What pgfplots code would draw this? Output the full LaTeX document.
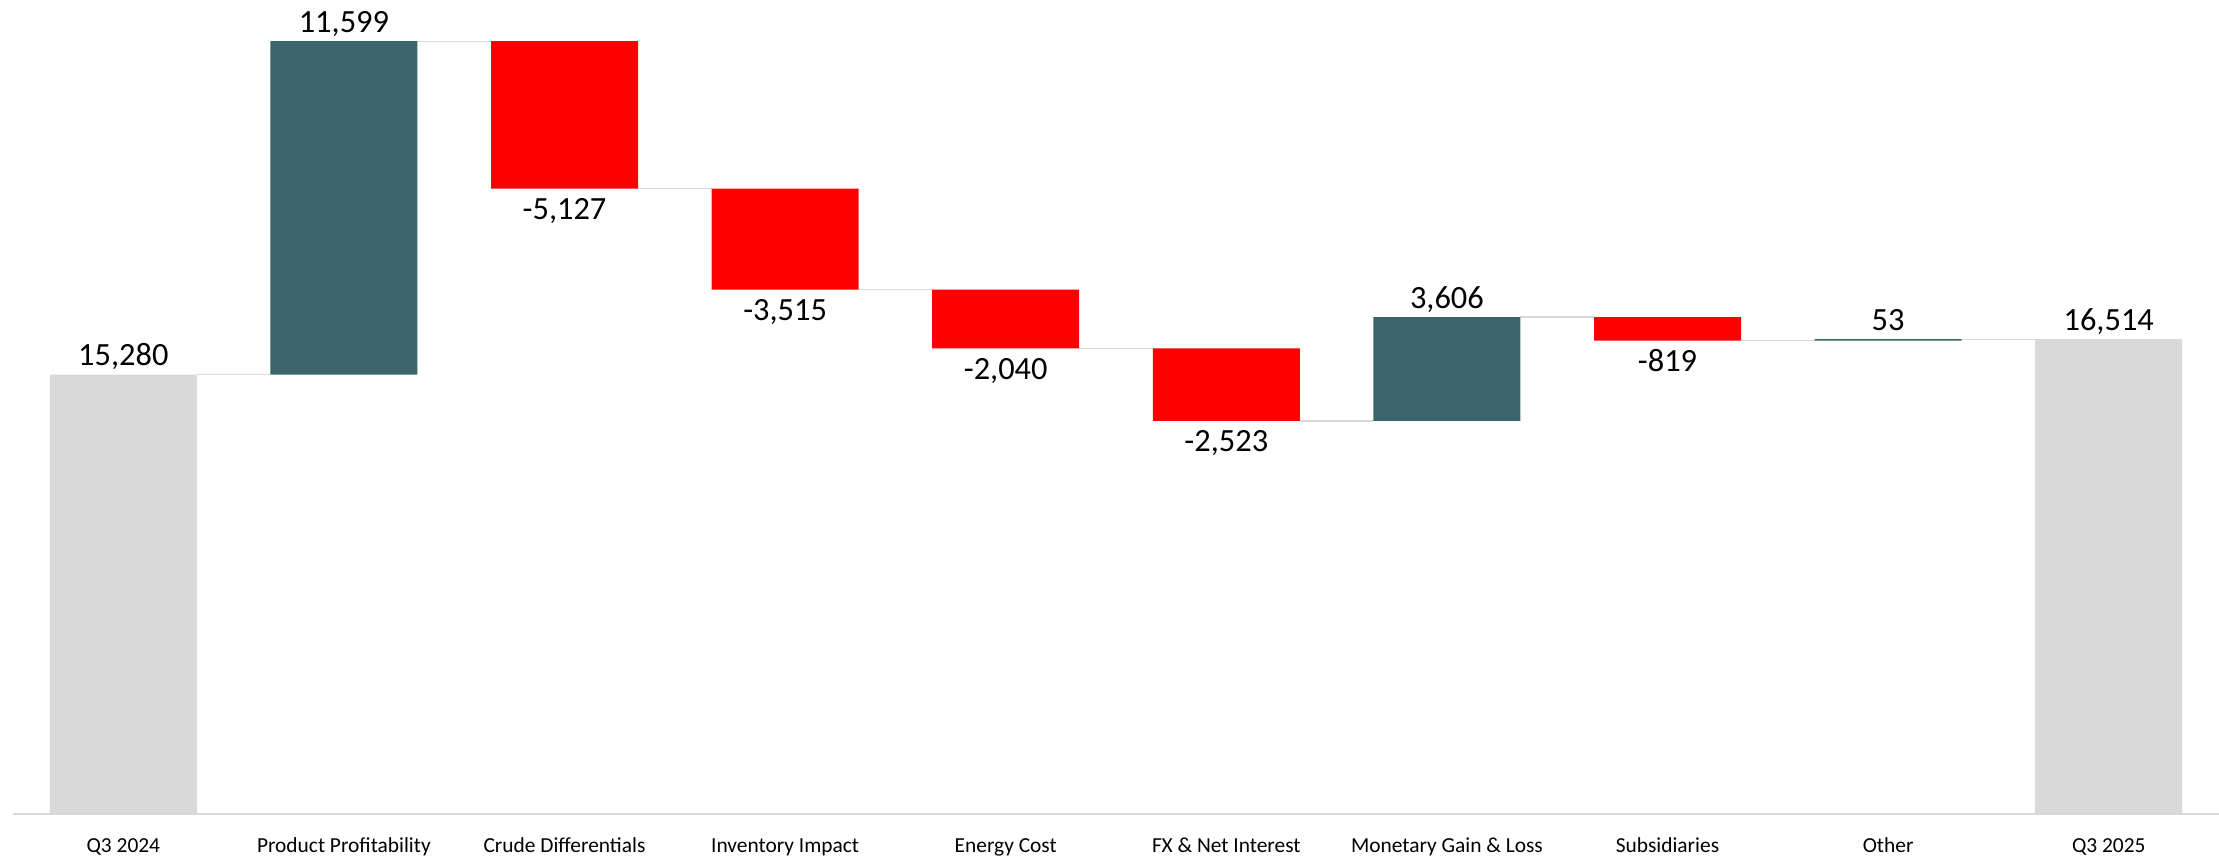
\documentclass[border=0pt]{standalone}
\usepackage{fontspec}
\setmainfont{Carlito}
\usepackage{pgfplots}
\pgfplotsset{compat=1.18}
\definecolor{totgray}{HTML}{D9D9D9}
\definecolor{posteal}{HTML}{3B656A}
\definecolor{negred}{HTML}{FF0000}
\definecolor{linegray}{HTML}{D9D9D9}
\pgfplotsset{
  common/.style={
    scale only axis, width=1103pt, height=407pt,
    xmin=-0.5, xmax=9.5, ymin=0, ymax=28313,
    clip=false,
  }
}
\begin{document}
\begin{tikzpicture}
% connectors and value labels
\begin{axis}[common, hide axis]
\addplot[linegray, line width=0.7pt, unbounded coords=jump, mark=none] table {
x y
0.333 15280
0.667 15280
0.5 nan
1.333 26879
1.667 26879
1.5 nan
2.333 21752
2.667 21752
2.5 nan
3.333 18237
3.667 18237
3.5 nan
4.333 16197
4.667 16197
4.5 nan
5.333 13674
5.667 13674
5.5 nan
6.333 17280
6.667 17280
6.5 nan
7.333 16461
7.667 16461
7.5 nan
8.333 16514
8.667 16514
};
\addplot[draw=none, mark=none, nodes near coords, point meta=explicit symbolic,
  every node near coord/.append style={anchor=base, yshift=4.5pt, font=\fontsize{16.2}{19}\selectfont, text=black}]
  table[meta=lab] {
x y lab
0 15280 15,280
1 26879 11,599
6 17280 3,606
8 16514 53
9 16514 16,514
};
\addplot[draw=none, mark=none, nodes near coords, point meta=explicit symbolic,
  every node near coord/.append style={anchor=base, yshift=-15.5pt, font=\fontsize{16.2}{19}\selectfont, text=black}]
  table[meta=lab] {
x y lab
2 21752 -5,127
3 18237 -3,515
4 16197 -2,040
5 13674 -2,523
7 16461 -819
};
\end{axis}
% bars
\begin{axis}[common, name=bars,
  ybar stacked, bar width=73.5pt,
  axis x line*=bottom, axis y line=none,
  x axis line style={draw=linegray, line width=0.85pt},
  xtick={0,1,2,3,4,5,6,7,8,9},
  xticklabels={Q3 2024, Product Profitability, Crude Differentials, Inventory Impact, Energy Cost, FX \& Net Interest, Monetary Gain \& Loss, Subsidiaries, Other, Q3 2025},
  major tick length=0pt, xtick style={draw=none}, ytick=\empty,
  xticklabel style={anchor=base, yshift=-19.5pt, font=\fontsize{10.7}{13}\selectfont, text=black},
]
\addplot[fill=white, draw=none, fill opacity=0] coordinates {(0,0) (1,15280) (2,21752) (3,18237) (4,16197) (5,13674) (6,13674) (7,16461) (8,16461) (9,0)};
\addplot[fill=totgray, draw=none] coordinates {(0,15280) (1,0) (2,0) (3,0) (4,0) (5,0) (6,0) (7,0) (8,0) (9,16514)};
\addplot[fill=posteal, draw=none] coordinates {(0,0) (1,11599) (2,0) (3,0) (4,0) (5,0) (6,3606) (7,0) (8,53) (9,0)};
\addplot[fill=negred, draw=none] coordinates {(0,0) (1,0) (2,5127) (3,3515) (4,2040) (5,2523) (6,0) (7,819) (8,0) (9,0)};
\end{axis}
\pgfresetboundingbox
\path ([shift={(-6.5pt,-22pt)}]bars.south west) rectangle (bars.north east);
\end{tikzpicture}
\end{document}
